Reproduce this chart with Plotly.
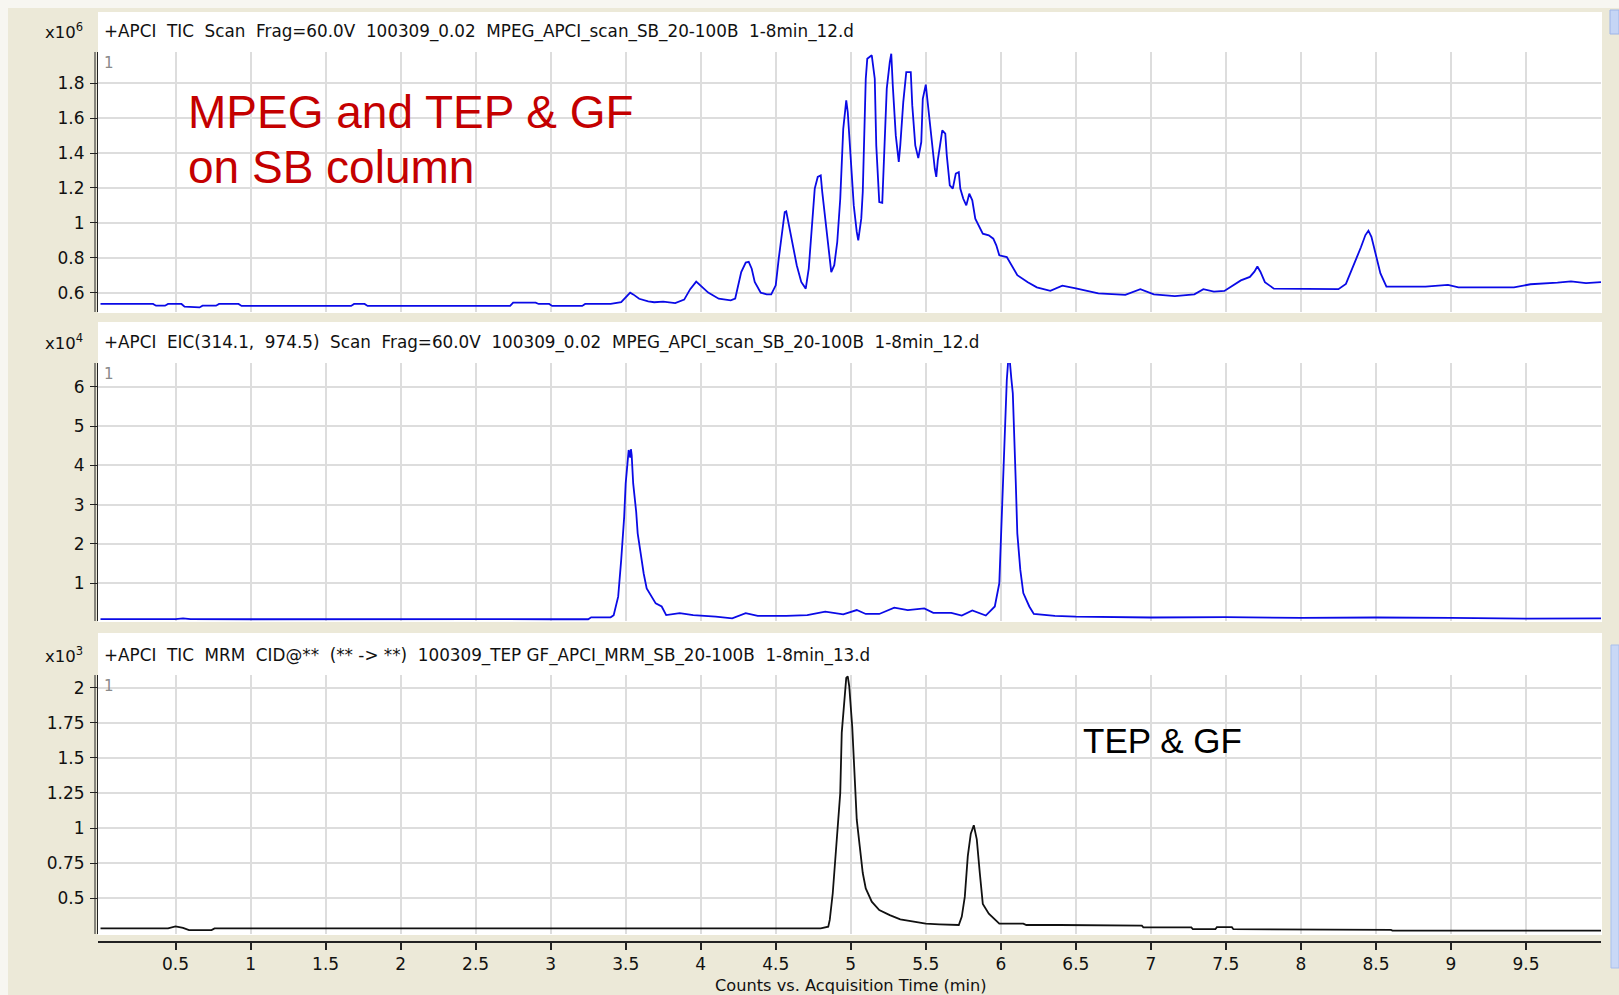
import plotly.graph_objects as go

W, H = 1619, 995

# ---------------- data ----------------
# Panel 1: +APCI TIC Scan (x10^6)
tic_time = [0.00, 0.35, 0.37, 0.43, 0.45, 0.54, 0.56, 0.66, 0.68, 0.77, 0.79, 0.92, 0.94, 1.67, 1.69,
            1.76, 1.78, 2.73, 2.75, 2.90, 2.92, 2.99, 3.01, 3.21, 3.23, 3.40, 3.47, 3.50, 3.53, 3.55,
            3.59, 3.65, 3.69, 3.75, 3.83, 3.89, 3.93, 3.97, 4.00, 4.05, 4.12, 4.20, 4.23, 4.25, 4.27,
            4.30, 4.32, 4.34, 4.36, 4.40, 4.44, 4.47, 4.50, 4.52, 4.54, 4.56, 4.57, 4.59, 4.61, 4.64,
            4.67, 4.70, 4.72, 4.74, 4.76, 4.78, 4.80, 4.81, 4.84, 4.86, 4.87, 4.89, 4.91, 4.93, 4.95,
            4.97, 4.98, 5.00, 5.02, 5.04, 5.05, 5.07, 5.08, 5.10, 5.11, 5.14, 5.16, 5.17, 5.19, 5.21,
            5.22, 5.24, 5.26, 5.27, 5.28, 5.30, 5.32, 5.33, 5.35, 5.37, 5.40, 5.41, 5.43, 5.45, 5.47,
            5.48, 5.50, 5.52, 5.54, 5.56, 5.57, 5.58, 5.61, 5.63, 5.64, 5.66, 5.68, 5.70, 5.72, 5.73,
            5.75, 5.77, 5.79, 5.81, 5.83, 5.85, 5.88, 5.92, 5.95, 5.97, 5.99, 6.04, 6.06, 6.11, 6.18,
            6.24, 6.33, 6.41, 6.50, 6.65, 6.83, 6.93, 7.02, 7.16, 7.29, 7.35, 7.42, 7.49, 7.60, 7.66,
            7.69, 7.71, 7.73, 7.76, 7.82, 8.00, 8.25, 8.30, 8.33, 8.37, 8.40, 8.43, 8.45, 8.47, 8.49,
            8.53, 8.57, 8.83, 8.98, 9.05, 9.42, 9.53, 9.71, 9.80, 9.90, 10.00]
tic_counts = [0.535, 0.535, 0.525, 0.525, 0.535, 0.535, 0.520, 0.515, 0.525, 0.525, 0.535, 0.535, 0.524, 0.524, 0.535,
              0.535, 0.524, 0.524, 0.543, 0.543, 0.535, 0.535, 0.524, 0.524, 0.535, 0.535, 0.545, 0.575, 0.600, 0.590,
              0.565, 0.550, 0.545, 0.548, 0.540, 0.560, 0.620, 0.663, 0.640, 0.600, 0.565, 0.556, 0.566, 0.642, 0.718,
              0.772, 0.776, 0.737, 0.661, 0.600, 0.590, 0.590, 0.642, 0.795, 0.938, 1.062, 1.066, 0.976, 0.871, 0.757,
              0.661, 0.623, 0.737, 0.967, 1.196, 1.263, 1.272, 1.177, 0.967, 0.795, 0.718, 0.757, 0.890, 1.138, 1.539,
              1.702, 1.635, 1.368, 1.100, 0.948, 0.900, 1.024, 1.177, 1.826, 1.940, 1.960, 1.826, 1.444, 1.119, 1.115,
              1.368, 1.769, 1.921, 1.969, 1.788, 1.501, 1.349, 1.444, 1.692, 1.864, 1.864, 1.673, 1.444, 1.371, 1.463,
              1.711, 1.792, 1.635, 1.444, 1.310, 1.263, 1.358, 1.530, 1.511, 1.387, 1.215, 1.196, 1.282, 1.291, 1.196,
              1.138, 1.100, 1.167, 1.129, 1.024, 0.986, 0.938, 0.928, 0.909, 0.871, 0.814, 0.804, 0.776, 0.700, 0.660,
              0.630, 0.610, 0.640, 0.625, 0.596, 0.587, 0.620, 0.590, 0.580, 0.590, 0.620, 0.606, 0.610, 0.670, 0.690,
              0.720, 0.750, 0.720, 0.660, 0.623, 0.620, 0.620, 0.650, 0.710, 0.790, 0.860, 0.930, 0.955, 0.920, 0.845,
              0.710, 0.634, 0.634, 0.644, 0.630, 0.630, 0.648, 0.657, 0.665, 0.655, 0.660]

# Panel 2: +APCI EIC(314.1, 974.5) (x10^4)
eic_time = [0.00, 0.50, 0.55, 0.60, 1.00, 1.50, 2.00, 2.50, 3.00, 3.25, 3.27, 3.40, 3.42, 3.45, 3.47,
            3.49, 3.50, 3.52, 3.53, 3.535, 3.54, 3.55, 3.57, 3.58, 3.60, 3.62, 3.64, 3.67, 3.70, 3.74,
            3.77, 3.86, 3.95, 4.10, 4.21, 4.30, 4.38, 4.57, 4.71, 4.83, 4.95, 5.04, 5.10, 5.19, 5.29,
            5.38, 5.49, 5.55, 5.67, 5.74, 5.81, 5.90, 5.96, 5.99, 6.00, 6.02, 6.04, 6.05, 6.06, 6.07,
            6.08, 6.10, 6.11, 6.13, 6.15, 6.19, 6.22, 6.36, 6.50, 7.00, 7.50, 8.00, 8.50, 9.00, 9.50,
            10.00]
eic_counts = [0.09, 0.09, 0.11, 0.09, 0.085, 0.09, 0.085, 0.09, 0.085, 0.085, 0.135, 0.135, 0.19, 0.66, 1.59,
              2.69, 3.54, 4.39, 4.20, 4.41, 4.26, 3.54, 2.82, 2.27, 1.76, 1.25, 0.87, 0.66, 0.49, 0.41,
              0.19, 0.24, 0.19, 0.15, 0.11, 0.24, 0.17, 0.17, 0.19, 0.28, 0.21, 0.32, 0.22, 0.22, 0.38,
              0.32, 0.36, 0.25, 0.25, 0.18, 0.31, 0.18, 0.41, 1.00, 2.10, 4.22, 6.17, 6.70, 6.65, 6.21,
              5.83, 3.54, 2.27, 1.34, 0.75, 0.41, 0.22, 0.17, 0.15, 0.13, 0.14, 0.12, 0.13, 0.12, 0.10,
              0.11]

# Panel 3: +APCI TIC MRM (x10^3)
mrm_time = [0.00, 0.45, 0.50, 0.55, 0.59, 0.74, 0.76, 4.80, 4.85, 4.86, 4.88, 4.90, 4.93, 4.94, 4.96,
            4.97, 4.98, 4.99, 5.01, 5.03, 5.04, 5.06, 5.08, 5.10, 5.14, 5.19, 5.26, 5.33, 5.42, 5.50,
            5.59, 5.72, 5.74, 5.76, 5.78, 5.80, 5.82, 5.84, 5.86, 5.88, 5.92, 5.95, 5.99, 6.15, 6.17,
            6.39, 6.94, 6.95, 7.27, 7.28, 7.43, 7.44, 7.54, 7.55, 8.40, 8.45, 8.60, 8.61, 10.00]
mrm_counts = [0.286, 0.286, 0.300, 0.290, 0.274, 0.274, 0.286, 0.286, 0.298, 0.346, 0.536, 0.82, 1.25, 1.68, 1.94,
              2.07, 2.08, 2.01, 1.72, 1.34, 1.06, 0.87, 0.68, 0.57, 0.476, 0.417, 0.38, 0.35, 0.334, 0.32,
              0.315, 0.31, 0.37, 0.51, 0.80, 0.96, 1.02, 0.92, 0.68, 0.46, 0.39, 0.36, 0.32, 0.32, 0.31,
              0.31, 0.305, 0.293, 0.293, 0.28, 0.28, 0.295, 0.295, 0.28, 0.28, 0.275, 0.275, 0.27, 0.27]

x_tickvals = [0.5, 1, 1.5, 2, 2.5, 3, 3.5, 4, 4.5, 5, 5.5, 6, 6.5, 7, 7.5, 8, 8.5, 9, 9.5]
x_ticktext = ["0.5", "1", "1.5", "2", "2.5", "3", "3.5", "4", "4.5", "5", "5.5", "6", "6.5", "7",
              "7.5", "8", "8.5", "9", "9.5"]
y1_tickvals = [0.6, 0.8, 1.0, 1.2, 1.4, 1.6, 1.8]
y1_ticktext = ["0.6", "0.8", "1", "1.2", "1.4", "1.6", "1.8"]
y2_tickvals = [1, 2, 3, 4, 5, 6]
y2_ticktext = ["1", "2", "3", "4", "5", "6"]
y3_tickvals = [0.5, 0.75, 1, 1.25, 1.5, 1.75, 2]
y3_ticktext = ["0.5", "0.75", "1", "1.25", "1.5", "1.75", "2"]

titles = [
    "+APCI\u00a0\u00a0TIC\u00a0\u00a0Scan\u00a0\u00a0Frag=60.0V\u00a0\u00a0100309_0.02\u00a0\u00a0MPEG_APCI_scan_SB_20-100B\u00a0\u00a01-8min_12.d",
    "+APCI\u00a0\u00a0EIC(314.1,\u00a0\u00a0974.5)\u00a0\u00a0Scan\u00a0\u00a0Frag=60.0V\u00a0\u00a0100309_0.02\u00a0\u00a0MPEG_APCI_scan_SB_20-100B\u00a0\u00a01-8min_12.d",
    "+APCI\u00a0\u00a0TIC\u00a0\u00a0MRM\u00a0\u00a0CID@**\u00a0\u00a0(**\u00a0->\u00a0**)\u00a0\u00a0100309_TEP GF_APCI_MRM_SB_20-100B\u00a0\u00a01-8min_13.d",
]
exponents = ["6", "4", "3"]

# ---------------- layout helpers ----------------
def fx(px):
    return px / W

def fy(py):
    return 1 - py / H

FONT = "DejaVu Sans, Tahoma, sans-serif"
BEIGE = "#ECE9D8"
GRID = "#DDDDDD"
TXT = "#111111"

X_DOM = [fx(98), fx(1601)]
X_RANGE = [-0.0167, 10.0]
panels = [
    # (plot top, plot bottom, white top, white bottom, title y, yrange)
    (52, 312, 12, 313, 31, [0.489, 1.979]),
    (363, 621, 322, 622, 342, [0.041, 6.603]),
    (675, 934, 633, 935, 655, [0.246, 2.090]),
]

fig = go.Figure()
fig.add_trace(go.Scatter(x=tic_time, y=tic_counts, mode="lines", xaxis="x", yaxis="y",
                         line=dict(color="#0A0AE6", width=1.8), showlegend=False))
fig.add_trace(go.Scatter(x=eic_time, y=eic_counts, mode="lines", xaxis="x2", yaxis="y2",
                         line=dict(color="#0A0AE6", width=1.8), showlegend=False))
fig.add_trace(go.Scatter(x=mrm_time, y=mrm_counts, mode="lines", xaxis="x3", yaxis="y3",
                         line=dict(color="#111111", width=1.8), showlegend=False))

shapes = []
annotations = []
# light window edges
shapes.append(dict(type="rect", xref="paper", yref="paper", x0=0, x1=1, y0=fy(8), y1=1,
                   fillcolor="#F7F6F1", line=dict(width=0), layer="below"))
shapes.append(dict(type="rect", xref="paper", yref="paper", x0=0, x1=fx(8), y0=0, y1=1,
                   fillcolor="#F7F6F1", line=dict(width=0), layer="below"))
# scrollbar fragments at the right edge
shapes.append(dict(type="rect", xref="paper", yref="paper", x0=fx(1610), x1=1, y0=fy(34), y1=fy(10),
                   fillcolor="#C5D5F5", line=dict(color="#9DB4E8", width=1), layer="below"))
shapes.append(dict(type="rect", xref="paper", yref="paper", x0=fx(1611), x1=1, y0=fy(968), y1=fy(645),
                   fillcolor="#C9D8F6", line=dict(color="#A9BFEC", width=1), layer="below"))

ys_ticks = [(y1_tickvals, y1_ticktext), (y2_tickvals, y2_ticktext), (y3_tickvals, y3_ticktext)]
for i, (ptop, pbot, wtop, wbot, ty, yr) in enumerate(panels):
    n = "" if i == 0 else str(i + 1)
    # white panel
    shapes.append(dict(type="rect", xref="paper", yref="paper", x0=fx(98), x1=fx(1602),
                       y0=fy(wbot), y1=fy(wtop), fillcolor="white", line=dict(width=0), layer="below"))
    # second (outer) line of the double y axis
    shapes.append(dict(type="line", xref="paper", yref="paper", x0=fx(95), x1=fx(95),
                       y0=fy(pbot), y1=fy(ptop), line=dict(color="#222222", width=1)))
    xa = dict(domain=X_DOM, range=X_RANGE, tickmode="array", tickvals=x_tickvals,
              showgrid=True, gridcolor=GRID, gridwidth=2, zeroline=False,
              showline=False, anchor="y" + n, fixedrange=True)
    if i < 2:
        xa.update(showticklabels=False, ticks="")
    else:
        xa.update(anchor="free", position=fy(942), showline=True, linecolor="#222222", linewidth=2,
                  ticks="outside", ticklen=7, tickwidth=1.5, tickcolor="#222222",
                  ticktext=x_ticktext, tickfont=dict(family=FONT, size=17, color=TXT))
    ya = dict(domain=[fy(pbot), fy(ptop)], range=yr, tickmode="array",
              tickvals=ys_ticks[i][0], ticktext=ys_ticks[i][1],
              showgrid=True, gridcolor=GRID, gridwidth=2, zeroline=False,
              showline=True, linecolor="#222222", linewidth=1,
              ticks="outside", ticklen=7, tickwidth=1, tickcolor="#222222",
              ticklabelstandoff=2,
              tickfont=dict(family=FONT, size=17, color=TXT),
              anchor="x" + n, fixedrange=True)
    fig.layout["xaxis" + n] = xa
    fig.layout["yaxis" + n] = ya
    # title strip text
    annotations.append(dict(xref="paper", yref="paper", x=fx(102), y=fy(ty), xanchor="left",
                            yanchor="middle", showarrow=False, text=titles[i],
                            font=dict(family=FONT, size=16.8, color=TXT)))
    annotations.append(dict(xref="paper", yref="paper", x=fx(85), y=fy(ty), xanchor="right",
                            yanchor="middle", showarrow=False,
                            text="x10<sup>" + exponents[i] + "</sup>",
                            font=dict(family=FONT, size=16.5, color=TXT)))
    annotations.append(dict(xref="paper", yref="paper", x=fx(102), y=fy(ptop + 11), xanchor="left",
                            yanchor="middle", showarrow=False, text="1",
                            font=dict(family=FONT, size=15, color="#8A8A8A")))

annotations.append(dict(xref="paper", yref="paper", x=fx(186), y=fy(112), xanchor="left",
                        yanchor="middle", showarrow=False, text="MPEG and TEP &amp; GF",
                        font=dict(family="Liberation Sans, Arial, sans-serif", size=46, color="#C40000")))
annotations.append(dict(xref="paper", yref="paper", x=fx(186), y=fy(167), xanchor="left",
                        yanchor="middle", showarrow=False, text="on SB column",
                        font=dict(family="Liberation Sans, Arial, sans-serif", size=46, color="#C40000")))
annotations.append(dict(xref="paper", yref="paper", x=fx(1081), y=fy(740), xanchor="left",
                        yanchor="middle", showarrow=False, text="TEP &amp; GF",
                        font=dict(family="Liberation Sans, Arial, sans-serif", size=35, color="#000000")))
annotations.append(dict(xref="paper", yref="paper", x=fx(851), y=fy(985), xanchor="center",
                        yanchor="middle", showarrow=False, text="Counts vs. Acquisition Time (min)",
                        font=dict(family=FONT, size=16.2, color=TXT)))

fig.update_layout(width=W, height=H, autosize=False, margin=dict(l=0, r=0, t=0, b=0),
                  paper_bgcolor=BEIGE, plot_bgcolor="white", shapes=shapes,
                  annotations=annotations, showlegend=False, hovermode=False)

fig.write_html("out.html", config={"displayModeBar": False})
